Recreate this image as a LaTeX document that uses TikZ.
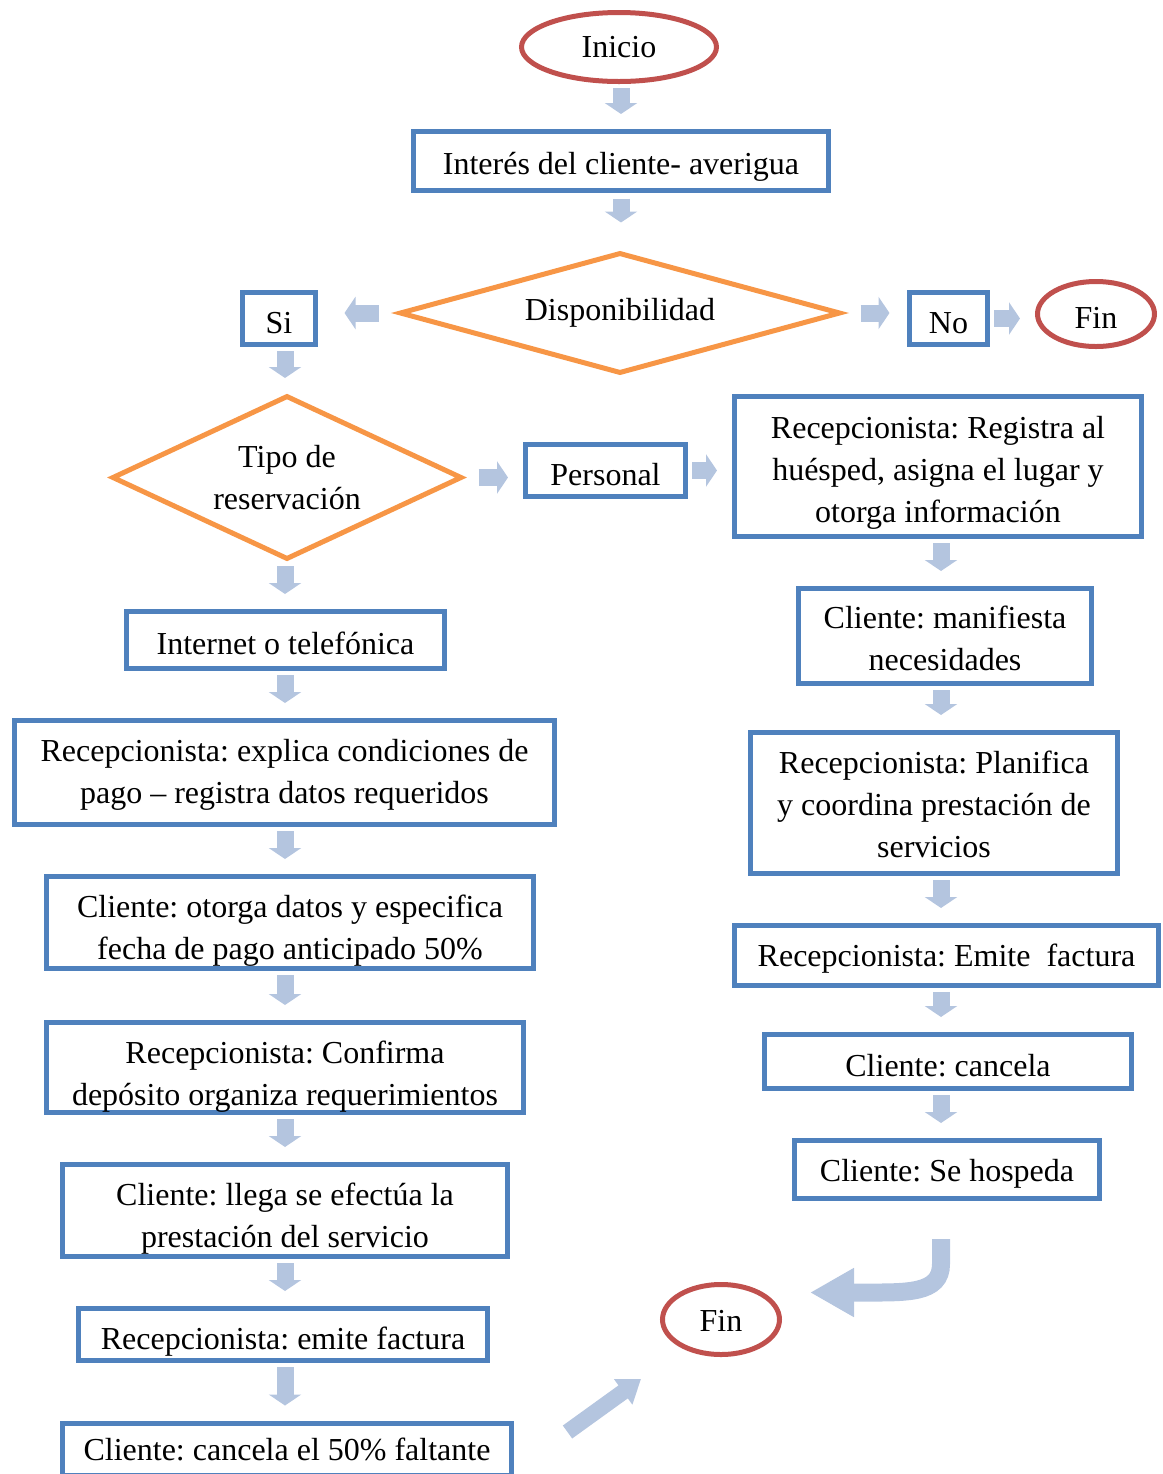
\documentclass[tikz,border=0pt]{standalone}
\usepackage{fontspec}
\setmainfont{Liberation Serif}
\frenchspacing
\usetikzlibrary{arrows.meta,positioning,calc,shapes.geometric}
\definecolor{boxblue}{RGB}{79,129,189}
\definecolor{choiceorange}{RGB}{247,150,70}
\definecolor{ovalred}{RGB}{192,80,77}
\definecolor{arrowblue}{RGB}{180,197,223}

\begin{document}
\begin{tikzpicture}[
  x=0.5pt,y=-0.5pt,
  font=\fontsize{16}{21}\selectfont,
  box/.style={draw=boxblue,line width=2.5pt,align=center,inner sep=0pt},
  oval/.style={draw=ovalred,ellipse,line width=2.5pt,inner sep=0pt},
  choice/.style={draw=choiceorange,diamond,line width=2.5pt,align=center,
                 inner sep=0pt},
  arrow/.style={draw=arrowblue,line width=8.5pt,
                -{Triangle[width=16pt,length=5.5pt]},
                shorten <=2pt,shorten >=7.5pt}
]
\path[use as bounding box] (0,0) rectangle (1163,1474);
\clip (0,0) rectangle (1163,1474);
\coordinate (colL) at (285,0);
\coordinate (colR) at (941,0);

\node[oval,minimum width=97.5pt,minimum height=34.5pt] (inicio) at (619,47) {Inicio};
\node[box,minimum width=207.5pt,minimum height=29.5pt,text height=17pt] (interes)
 at (621,161) {Interés del cliente- averigua};
\node[choice,aspect=3.64,minimum width=220.5pt,minimum height=60.5pt] (disp)
 at (620,313) {Disponibilidad};
\node[box,minimum width=36.5pt,minimum height=26pt,text height=15pt] (si)
 at (279,318.5) {Si};
\node[box,minimum width=39pt,minimum height=26pt,text height=15pt] (no)
 at (948.5,318.5) {No};
\node[oval,minimum width=58.5pt,minimum height=32.5pt,text height=14pt] (fin1)
 at (1096,314) {Fin};
\node[choice,aspect=2.13,minimum width=175pt,minimum height=82pt] (tipo)
 at (287,477.5) {Tipo de\\reservación};
\node[box,minimum width=80pt,minimum height=26pt,text height=15pt] (personal)
 at (605.5,470.5) {Personal};

\node[box,minimum width=203.5pt,minimum height=70pt,text height=59pt] (registra)
 at (938,466.5)
 {Recepcionista: Registra al\\huésped, asigna el lugar y\\otorga información};
\node[box,minimum width=146.5pt,minimum height=47.5pt,text height=35pt]
 (manifiesta) at (945,636) {Cliente: manifiesta\\necesidades};
\node[box,minimum width=183.5pt,minimum height=70.5pt,text height=55pt]
 (planifica) at (934,803)
 {Recepcionista: Planifica\\y coordina prestación de\\servicios};
\node[box,minimum width=212pt,minimum height=30pt,text height=14pt] (emiteR)
 at (946.5,955.5) {Recepcionista: Emite\ \ factura};
\node[box,minimum width=183.5pt,minimum height=27pt,text height=15pt] (cancelaR)
 at (948,1061.5) {Cliente: cancela};
\node[box,minimum width=152.5pt,minimum height=29pt,text height=15pt] (hospeda)
 at (947,1169.5) {Cliente: Se hospeda};
\node[oval,minimum width=58.5pt,minimum height=35pt,text height=12pt] (fin2)
 at (721,1319.5) {Fin};

\node[box,minimum width=159pt,minimum height=28.5pt,text height=14.5pt] (internet)
 at (285.5,640) {Internet o telefónica};
\node[box,minimum width=270pt,minimum height=52pt,text height=34pt] (explica)
 at (284.5,772.5)
 {Recepcionista: explica condiciones de\\pago – registra datos requeridos};
\node[box,minimum width=243.5pt,minimum height=46pt,text height=40pt] (otorga)
 at (290,922.5)
 {Cliente: otorga datos y especifica\\fecha de pago anticipado 50\%};
\node[box,minimum width=238.5pt,minimum height=45pt,text height=41pt] (confirma)
 at (285,1067.5)
 {Recepcionista: Confirma\\depósito organiza requerimientos};
\node[box,minimum width=222.5pt,minimum height=46pt,text height=40pt] (llega)
 at (285,1210.5)
 {Cliente: llega se efectúa la\\prestación del servicio};
\node[box,minimum width=204.5pt,minimum height=26pt,text height=18pt] (emiteL)
 at (283,1334.5) {Recepcionista: emite factura};
\node[box,minimum width=224.5pt,minimum height=26pt] (cancelaL) at (287,1449)
 {Cliente: cancela el 50\% faltante};

\draw[arrow] (inicio.south -| interes.north) -- (interes.north);
\draw[arrow,shorten <=2.75pt,shorten >=13.75pt] (interes.south) -- (interes.south |- disp.north);
\draw[arrow,shorten <=9.25pt,shorten >=13.25pt] (disp.west) -- (disp.west -| si.east);
\draw[arrow,shorten <=8.75pt,shorten >=8.75pt] (disp.east) -- (disp.east -| no.west);
\draw[arrow] (no.east) -- (no.east -| fin1.west);
\draw[arrow] (si.south -| colL) -- (tipo.north -| colL);
\draw[arrow,shorten <=7pt] (tipo.east) -- (tipo.east -| personal.west);
\draw[arrow] (personal.east) -- (personal.east -| registra.west);
\draw[arrow] (tipo.south -| colL) -- (internet.north -| colL);
\draw[arrow] (internet.south -| colL) -- (explica.north -| colL);
\draw[arrow] (explica.south -| colL) -- (otorga.north -| colL);
\draw[arrow] (otorga.south -| colL) -- (confirma.north -| colL);
\draw[arrow] (confirma.south -| colL) -- (llega.north -| colL);
\draw[arrow] (llega.south -| colL) -- (emiteL.north -| colL);
\draw[arrow] (emiteL.south -| colL) -- (cancelaL.north -| colL);
\draw[arrow] (registra.south -| colR) -- (manifiesta.north -| colR);
\draw[arrow] (manifiesta.south -| colR) -- (planifica.north -| colR);
\draw[arrow] (planifica.south -| colR) -- (emiteR.north -| colR);
\draw[arrow] (emiteR.south -| colR) -- (cancelaR.north -| colR);
\draw[arrow] (cancelaR.south -| colR) -- (hospeda.north -| colR);
\draw[arrow,line width=9pt,-{Triangle[width=23pt,length=22pt]},
      shorten <=0pt,shorten >=0pt]
  ($(hospeda.south -| colR)+(0,38)$) -- ++(0,25)
  .. controls +(0,30) and +(45,0) .. ($(fin2.east)+(80,-27)$)
  -- ($(fin2.east)+(28,-27)$);
\draw[arrow,line width=8pt,-{Triangle[width=15pt,length=11pt]},
      shorten <=0pt,shorten >=0pt]
  ($(cancelaL.east)+(53.5,-17)$) -- ($(fin2.center)+(-80,59.5)$);
\end{tikzpicture}
\end{document}
